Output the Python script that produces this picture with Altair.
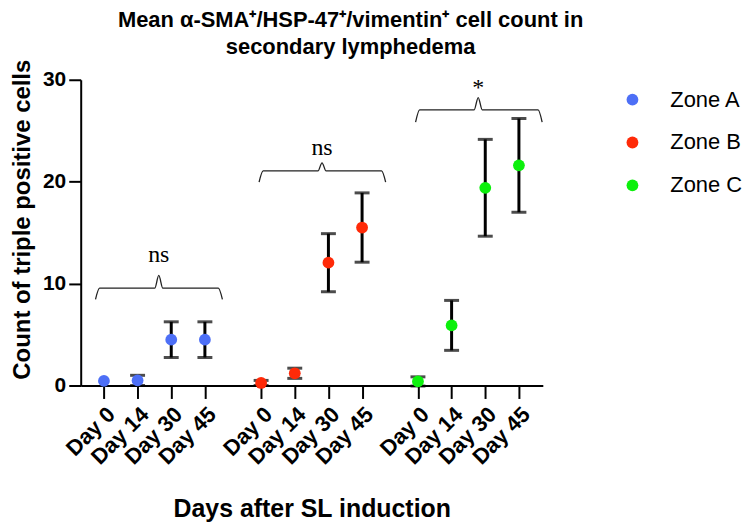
import altair as alt
import pandas as pd

days = ["Day 0", "Day 14", "Day 30", "Day 45"]
zones = ["Zone A", "Zone B", "Zone C"]
colors = ["#4d6ff6", "#ff2a08", "#0cf00c"]

# x slot of each day on the grouped axis
slots_A = [0, 1, 2, 3]
slots_B = [4.67, 5.67, 6.67, 7.67]
slots_C = [9.33, 10.33, 11.33, 12.33]

mean_A = [0.45, 0.5, 4.5, 4.5]
err_A = [0.0, 0.5, 1.75, 1.75]
mean_B = [0.25, 1.2, 12.05, 15.5]
err_B = [0.25, 0.5, 2.85, 3.4]
mean_C = [0.4, 5.9, 19.4, 21.6]
err_C = [0.45, 2.45, 4.75, 4.6]

# significance brackets
br_x0 = [-0.25, 4.61, 9.26]
br_x1 = [3.52, 8.37, 13.02]
br_xc = [1.63, 6.48, 11.12]
br_y = [9.55, 21.05, 27.05]
br_drop = [1.1, 1.1, 1.2]
br_tip = [1.25, 0.8, 1.2]
br_text = ["ns", "ns", "*"]
br_text_y = [12.1, 22.6, 28.5]

all_slots = slots_A + slots_B + slots_C
all_labels = days * 3

rows = []
for zone, slots, means, errs in zip(zones, [slots_A, slots_B, slots_C],
                                    [mean_A, mean_B, mean_C], [err_A, err_B, err_C]):
    for d, s, m, e in zip(days, slots, means, errs):
        rows.append({"zone": zone, "day": d, "x": s, "mean": m,
                     "lo": m - e, "hi": m + e, "err": e})
df = pd.DataFrame(rows)

caps = pd.concat([
    df[df.err > 0][["x", "lo"]].rename(columns={"lo": "y"}),
    df[df.err > 0][["x", "hi"]].rename(columns={"hi": "y"}),
])

brows = []
k = 0.12
for i in range(3):
    pts = [(br_x0[i], br_y[i] - br_drop[i]), (br_x0[i] + k, br_y[i]),
           (br_xc[i] - k, br_y[i]), (br_xc[i], br_y[i] + br_tip[i]),
           (br_xc[i] + k, br_y[i]), (br_x1[i] - k, br_y[i]),
           (br_x1[i], br_y[i] - br_drop[i])]
    for j, (px, py) in enumerate(pts):
        brows.append({"b": i, "o": j, "x": px, "y": py})
bdf = pd.DataFrame(brows)
tdf = pd.DataFrame({"x": br_xc, "y": br_text_y, "t": br_text})

FONT = "Liberation Sans"
label_expr = "{}[indexof({}, datum.value)]".format(
    str(all_labels).replace('"', "'"), str(all_slots))

xscale = alt.Scale(domain=[-0.69, 13.04], nice=False, zero=False)
yscale = alt.Scale(domain=[0, 30], nice=False)

xaxis = alt.Axis(values=all_slots, labelExpr=label_expr, labelAngle=315,
                 labelOverlap=False, labelBound=False,
                 labelFont=FONT, labelFontWeight="bold", labelFontSize=22,
                 labelColor="black", tickSize=13, tickWidth=2, tickColor="black",
                 domainWidth=2, domainColor="black", grid=False,
                 title="Days after SL induction", titleFont=FONT,
                 titleFontWeight="bold", titleFontSize=25, titleColor="black",
                 titleBaseline="alphabetic", titleY=132, labelPadding=5)
yaxis = alt.Axis(values=[0, 10, 20, 30], labelFont=FONT, labelFontWeight="bold",
                 labelFontSize=21, labelColor="black", tickSize=12, tickWidth=2,
                 tickColor="black", domainWidth=2, domainColor="black", grid=False,
                 title="Count of triple positive cells", titleFont=FONT,
                 titleFontWeight="bold", titleFontSize=24, titleColor="black",
                 titleX=-46, titleY=140, labelPadding=3)

base_x = alt.X("x:Q", scale=xscale, axis=xaxis)

bars = alt.Chart(df).mark_rule(color="black", strokeWidth=3).encode(
    x=base_x, y=alt.Y("lo:Q", scale=yscale, axis=yaxis), y2="hi:Q")
capm = alt.Chart(caps).mark_tick(color="black", orient="horizontal", size=15,
                                  thickness=3).encode(
    x=alt.X("x:Q", scale=xscale), y=alt.Y("y:Q", scale=yscale))
pts = alt.Chart(df).mark_circle(size=140, opacity=1).encode(
    x=alt.X("x:Q", scale=xscale), y=alt.Y("mean:Q", scale=yscale),
    color=alt.Color("zone:N", scale=alt.Scale(domain=zones, range=colors),
                    legend=alt.Legend(orient="none", legendX=543, legendY=9,
                                      title=None, symbolType="circle",
                                      symbolSize=140, symbolStrokeWidth=0,
                                      symbolOpacity=1, labelFont=FONT,
                                      labelFontSize=22, labelColor="black",
                                      labelOffset=27, rowPadding=21)))
brk = alt.Chart(bdf).mark_line(color="#222", strokeWidth=1.3,
                               interpolate="monotone").encode(
    x=alt.X("x:Q", scale=xscale), y=alt.Y("y:Q", scale=yscale),
    detail="b:N", order="o:Q")
txt = alt.Chart(tdf).mark_text(font="Liberation Serif", fontSize=24,
                               baseline="alphabetic", color="black").encode(
    x=alt.X("x:Q", scale=xscale), y=alt.Y("y:Q", scale=yscale), text="t:N")

chart = alt.layer(brk, txt, bars, capm, pts).properties(
    width=464, height=307,
    title=alt.TitleParams(
        text=["Mean \u03b1-SMA\u207a/HSP-47\u207a/vimentin\u207a cell count in",
              "secondary lymphedema"],
        font=FONT, fontSize=22, fontWeight="bold", color="black",
        anchor="middle", dx=39, lineHeight=27, offset=0),
    padding={"left": 73, "top": 71, "right": 200, "bottom": 138},
    autosize=alt.AutoSizeParams(type="none"),
).configure_view(stroke=None)

chart.save("out.html", embed_options={"renderer": "svg", "actions": False})
